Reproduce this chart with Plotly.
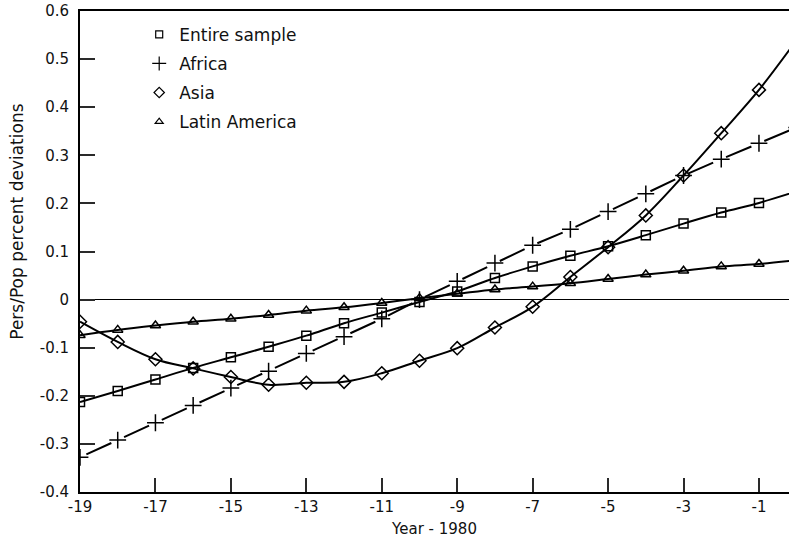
import plotly.graph_objects as go

years = list(range(-19, 1))

entire = [-0.213, -0.190, -0.166, -0.142, -0.120, -0.098, -0.075, -0.049, -0.027, -0.005,
          0.017, 0.045, 0.069, 0.091, 0.111, 0.134, 0.158, 0.181, 0.201, 0.225]
africa = [-0.328, -0.292, -0.256, -0.220, -0.184, -0.149, -0.112, -0.077, -0.040, 0.000,
          0.038, 0.076, 0.113, 0.146, 0.183, 0.220, 0.258, 0.292, 0.325, 0.358]
asia = [-0.046, -0.088, -0.124, -0.143, -0.161, -0.177, -0.173, -0.171, -0.153, -0.127,
        -0.101, -0.058, -0.015, 0.047, 0.109, 0.175, 0.258, 0.346, 0.436, 0.540]
latin = [-0.074, -0.063, -0.054, -0.046, -0.040, -0.032, -0.023, -0.016, -0.007, 0.003,
         0.012, 0.021, 0.027, 0.034, 0.043, 0.052, 0.060, 0.069, 0.074, 0.082]

series_names = ["Entire sample", "Africa", "Asia", "Latin America"]

x_tick_vals = [-19, -17, -15, -13, -11, -9, -7, -5, -3, -1]
x_tick_text = ["-19", "-17", "-15", "-13", "-11", "-9", "-7", "-5", "-3", "-1"]
y_tick_vals = [-0.4, -0.3, -0.2, -0.1, 0, 0.1, 0.2, 0.3, 0.4, 0.5, 0.6]
y_tick_text = ["-0.4", "-0.3", "-0.2", "-0.1", "0", "0.1", "0.2", "0.3", "0.4", "0.5", "0.6"]

FONT = "DejaVu Sans"
BLACK = "black"
TICK = "#2a2a2a"

W, H = 789, 540
ML, MR, MT, MB = 80, 0, 11, 48

styles = [
    dict(symbol="square-open", size=9, dash="solid", shape="spline", leg=7),
    dict(symbol="cross-thin-open", size=12, dash="0px,7px,27.5px,7px", shape="linear", leg=10),
    dict(symbol="diamond-open", size=10, dash="solid", shape="spline", leg=8),
    dict(symbol="triangle-up-open", size=9, dash="solid", shape="spline", leg=7),
]

fig = go.Figure()
for name, vals, st in zip(series_names, [entire, africa, asia, latin], styles):
    fig.add_trace(go.Scatter(
        x=years, y=vals, mode="lines+markers", name=name, showlegend=False,
        line=dict(color=BLACK, width=2, dash=st["dash"], shape=st["shape"]),
        marker=dict(symbol=st["symbol"], size=st["size"], color=BLACK,
                    line=dict(color=BLACK, width=1.5)),
    ))
for name, st in zip(series_names, styles):
    fig.add_trace(go.Scatter(
        x=[None], y=[None], mode="markers", name=name, showlegend=True,
        legendgroup=name,
        marker=dict(symbol=st["symbol"], size=st["leg"], color=BLACK,
                    line=dict(color=BLACK, width=1.2)),
    ))

fig.update_layout(
    template="none",
    width=W, height=H,
    margin=dict(l=ML, r=MR, t=MT, b=MB),
    paper_bgcolor="white", plot_bgcolor="white",
    font=dict(family=FONT, size=15, color="#111111"),
    legend=dict(x=0.0835, y=0.988, xanchor="left", yanchor="top",
                bgcolor="rgba(0,0,0,0)", font=dict(size=17, family=FONT),
                itemwidth=30, traceorder="grouped", tracegroupgap=4),
    xaxis=dict(range=[-19, -0.204], tickvals=x_tick_vals, ticktext=x_tick_text,
               ticks="inside", ticklen=14, tickwidth=2, tickcolor=TICK,
               showline=True, linecolor=BLACK, linewidth=2, mirror=True,
               showgrid=False, zeroline=False,
               title=dict(text="Year - 1980", font=dict(size=15), standoff=8)),
    yaxis=dict(range=[-0.4, 0.6], tickvals=y_tick_vals, ticktext=y_tick_text,
               ticks="inside", ticklen=15, tickwidth=2, tickcolor=TICK,
               showline=True, linecolor=BLACK, linewidth=2, mirror=False,
               showgrid=False, zeroline=True, zerolinecolor=BLACK, zerolinewidth=1.2,
               ticklabelstandoff=6),
    annotations=[dict(text="Pers/Pop percent deviations", xref="paper", yref="paper",
                      x=-0.088, y=0.561, textangle=-90, showarrow=False,
                      font=dict(size=17, family=FONT), xanchor="center", yanchor="middle")],
)

fig.write_html("out.html")
